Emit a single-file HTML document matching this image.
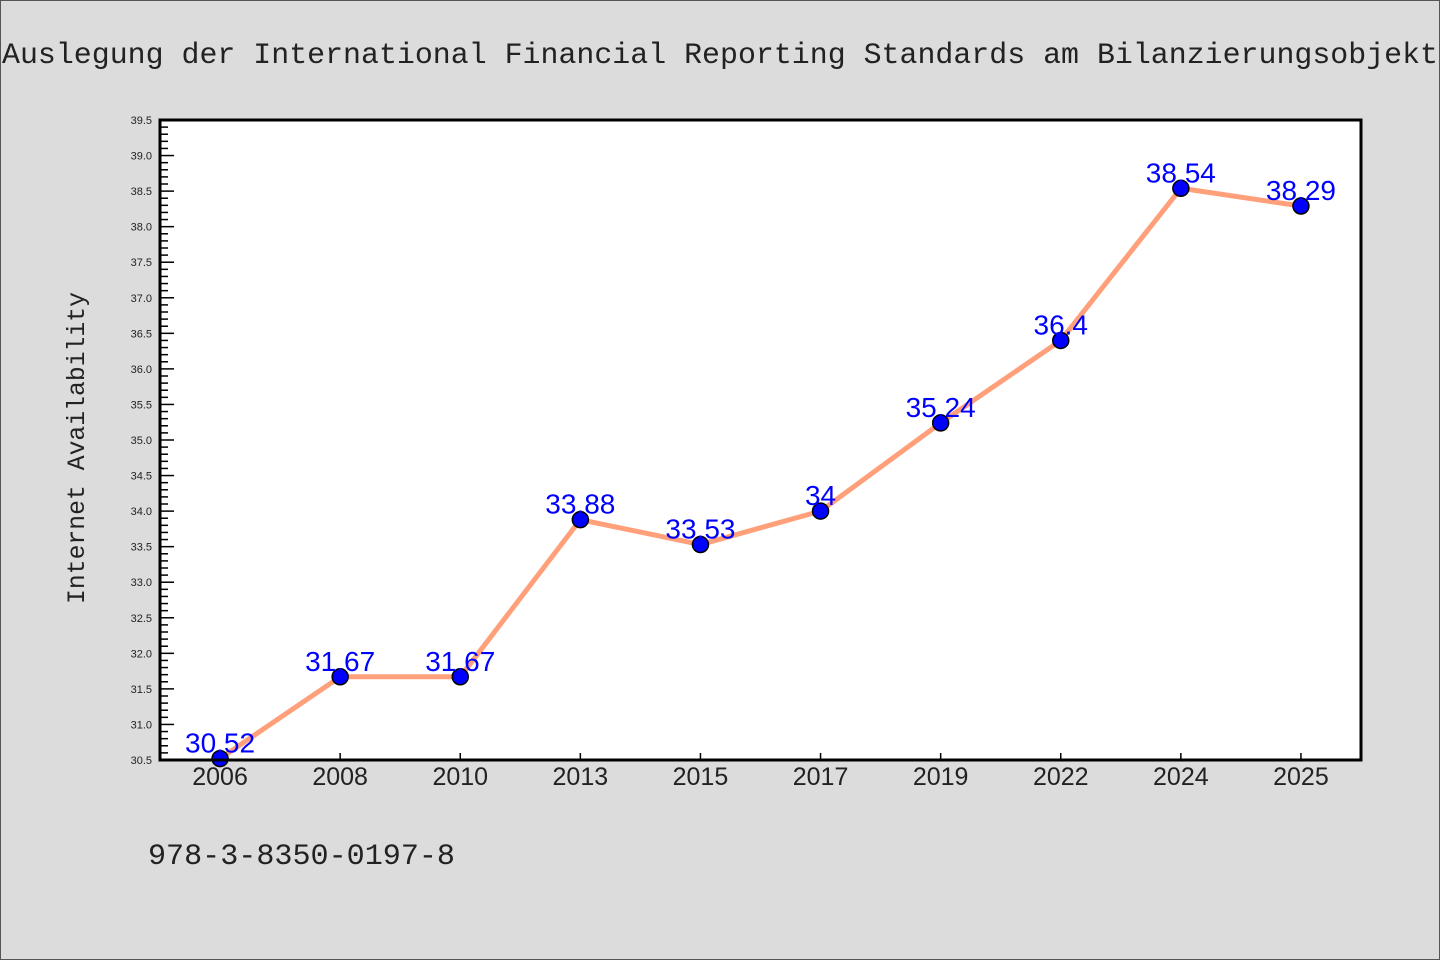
<!DOCTYPE html>
<html><head><meta charset="utf-8"><style>
body{margin:0;background:#dcdcdc;}
svg{display:block;font-family:"WenQuanYi Zen Hei Mono","WenQuanYi Zen Hei","Liberation Sans",sans-serif;}
.mono{font-family:"WenQuanYi Zen Hei Mono","Liberation Mono",monospace;}
</style></head><body>
<svg id="chart" width="1440" height="960" xmlns="http://www.w3.org/2000/svg">
<rect x="0.5" y="0.5" width="1439" height="959" fill="#dcdcdc" stroke="#555"/>
<text class="mono" x="2" y="63" font-size="30" fill="#222" textLength="1436" lengthAdjust="spacingAndGlyphs">Auslegung der International Financial Reporting Standards am Bilanzierungsobjekt</text>
<rect x="160" y="120" width="1201" height="640" fill="#fff"/>
<g id="yticks"></g><g id="xticks"></g>
<polyline id="line" fill="none" stroke="#ffa07a" stroke-width="5" stroke-linejoin="round"/>
<g id="points"></g><g id="labels"></g>
<rect x="160" y="120" width="1201" height="640" fill="none" stroke="#000" stroke-width="3"/>
<text class="mono" transform="translate(84,604) rotate(-90)" font-size="25" fill="#222" textLength="312" lengthAdjust="spacingAndGlyphs">Internet Availability</text>
<text class="mono" x="148" y="864" font-size="30" fill="#222" textLength="307" lengthAdjust="spacingAndGlyphs">978-3-8350-0197-8</text>
</svg>
<script>
const categories=["2006","2008","2010","2013","2015","2017","2019","2022","2024","2025"];
const values=[30.52,31.67,31.67,33.88,33.53,34,35.24,36.4,38.54,38.29];
const labels=["30.52","31.67","31.67","33.88","33.53","34","35.24","36.4","38.54","38.29"];
const yMin=30.5,yMax=39.5;
const NS="http://www.w3.org/2000/svg";
const L=160,R=1361,T=120,B=760;
const step=(R-L)/categories.length;
function xs(i){return L+step*(i+0.5);}
function ys(v){return B-(v-yMin)/(yMax-yMin)*(B-T);}
function mk(tag,attrs,parent){const e=document.createElementNS(NS,tag);for(const k in attrs)e.setAttribute(k,attrs[k]);parent.appendChild(e);return e;}
const yt=document.getElementById('yticks');
for(let k=0;k<=90;k++){
  const v=yMin+k*0.1,y=ys(v),major=k%5===0;
  const t=mk('line',{x1:L,x2:L+(major?14:8),y1:y,y2:y,stroke:'#000','stroke-width':1.5},yt);
  
  
  if(major){const tx=mk('text',{x:L-8,y:y+4,'text-anchor':'end','font-size':11,fill:'#222'},yt);tx.textContent=v.toFixed(1);
    
    }
}
const xt=document.getElementById('xticks');
categories.forEach((c,i)=>{
  const x=xs(i);
  const t=mk('line',{x1:x,x2:x,y1:B,y2:B-7,stroke:'#000','stroke-width':1.5},xt);
  
  
  const tx=mk('text',{x:x,y:B+25,'text-anchor':'middle','font-size':25,fill:'#222'},xt);tx.textContent=c;
  
  
});
document.getElementById('line').setAttribute('points',values.map((v,i)=>xs(i)+','+ys(v)).join(' '));
const pg=document.getElementById('points'),lg=document.getElementById('labels');
values.forEach((v,i)=>{
  const c=mk('circle',{cx:xs(i),cy:ys(v),r:8,fill:'#0000ff',stroke:'#000','stroke-width':1.5},pg);
  
  
  const t=mk('text',{x:xs(i),y:ys(v)-6,'text-anchor':'middle','font-size':28,fill:'#0000ff'},lg);t.textContent=labels[i];
  
  
});
</script>
</body></html>
